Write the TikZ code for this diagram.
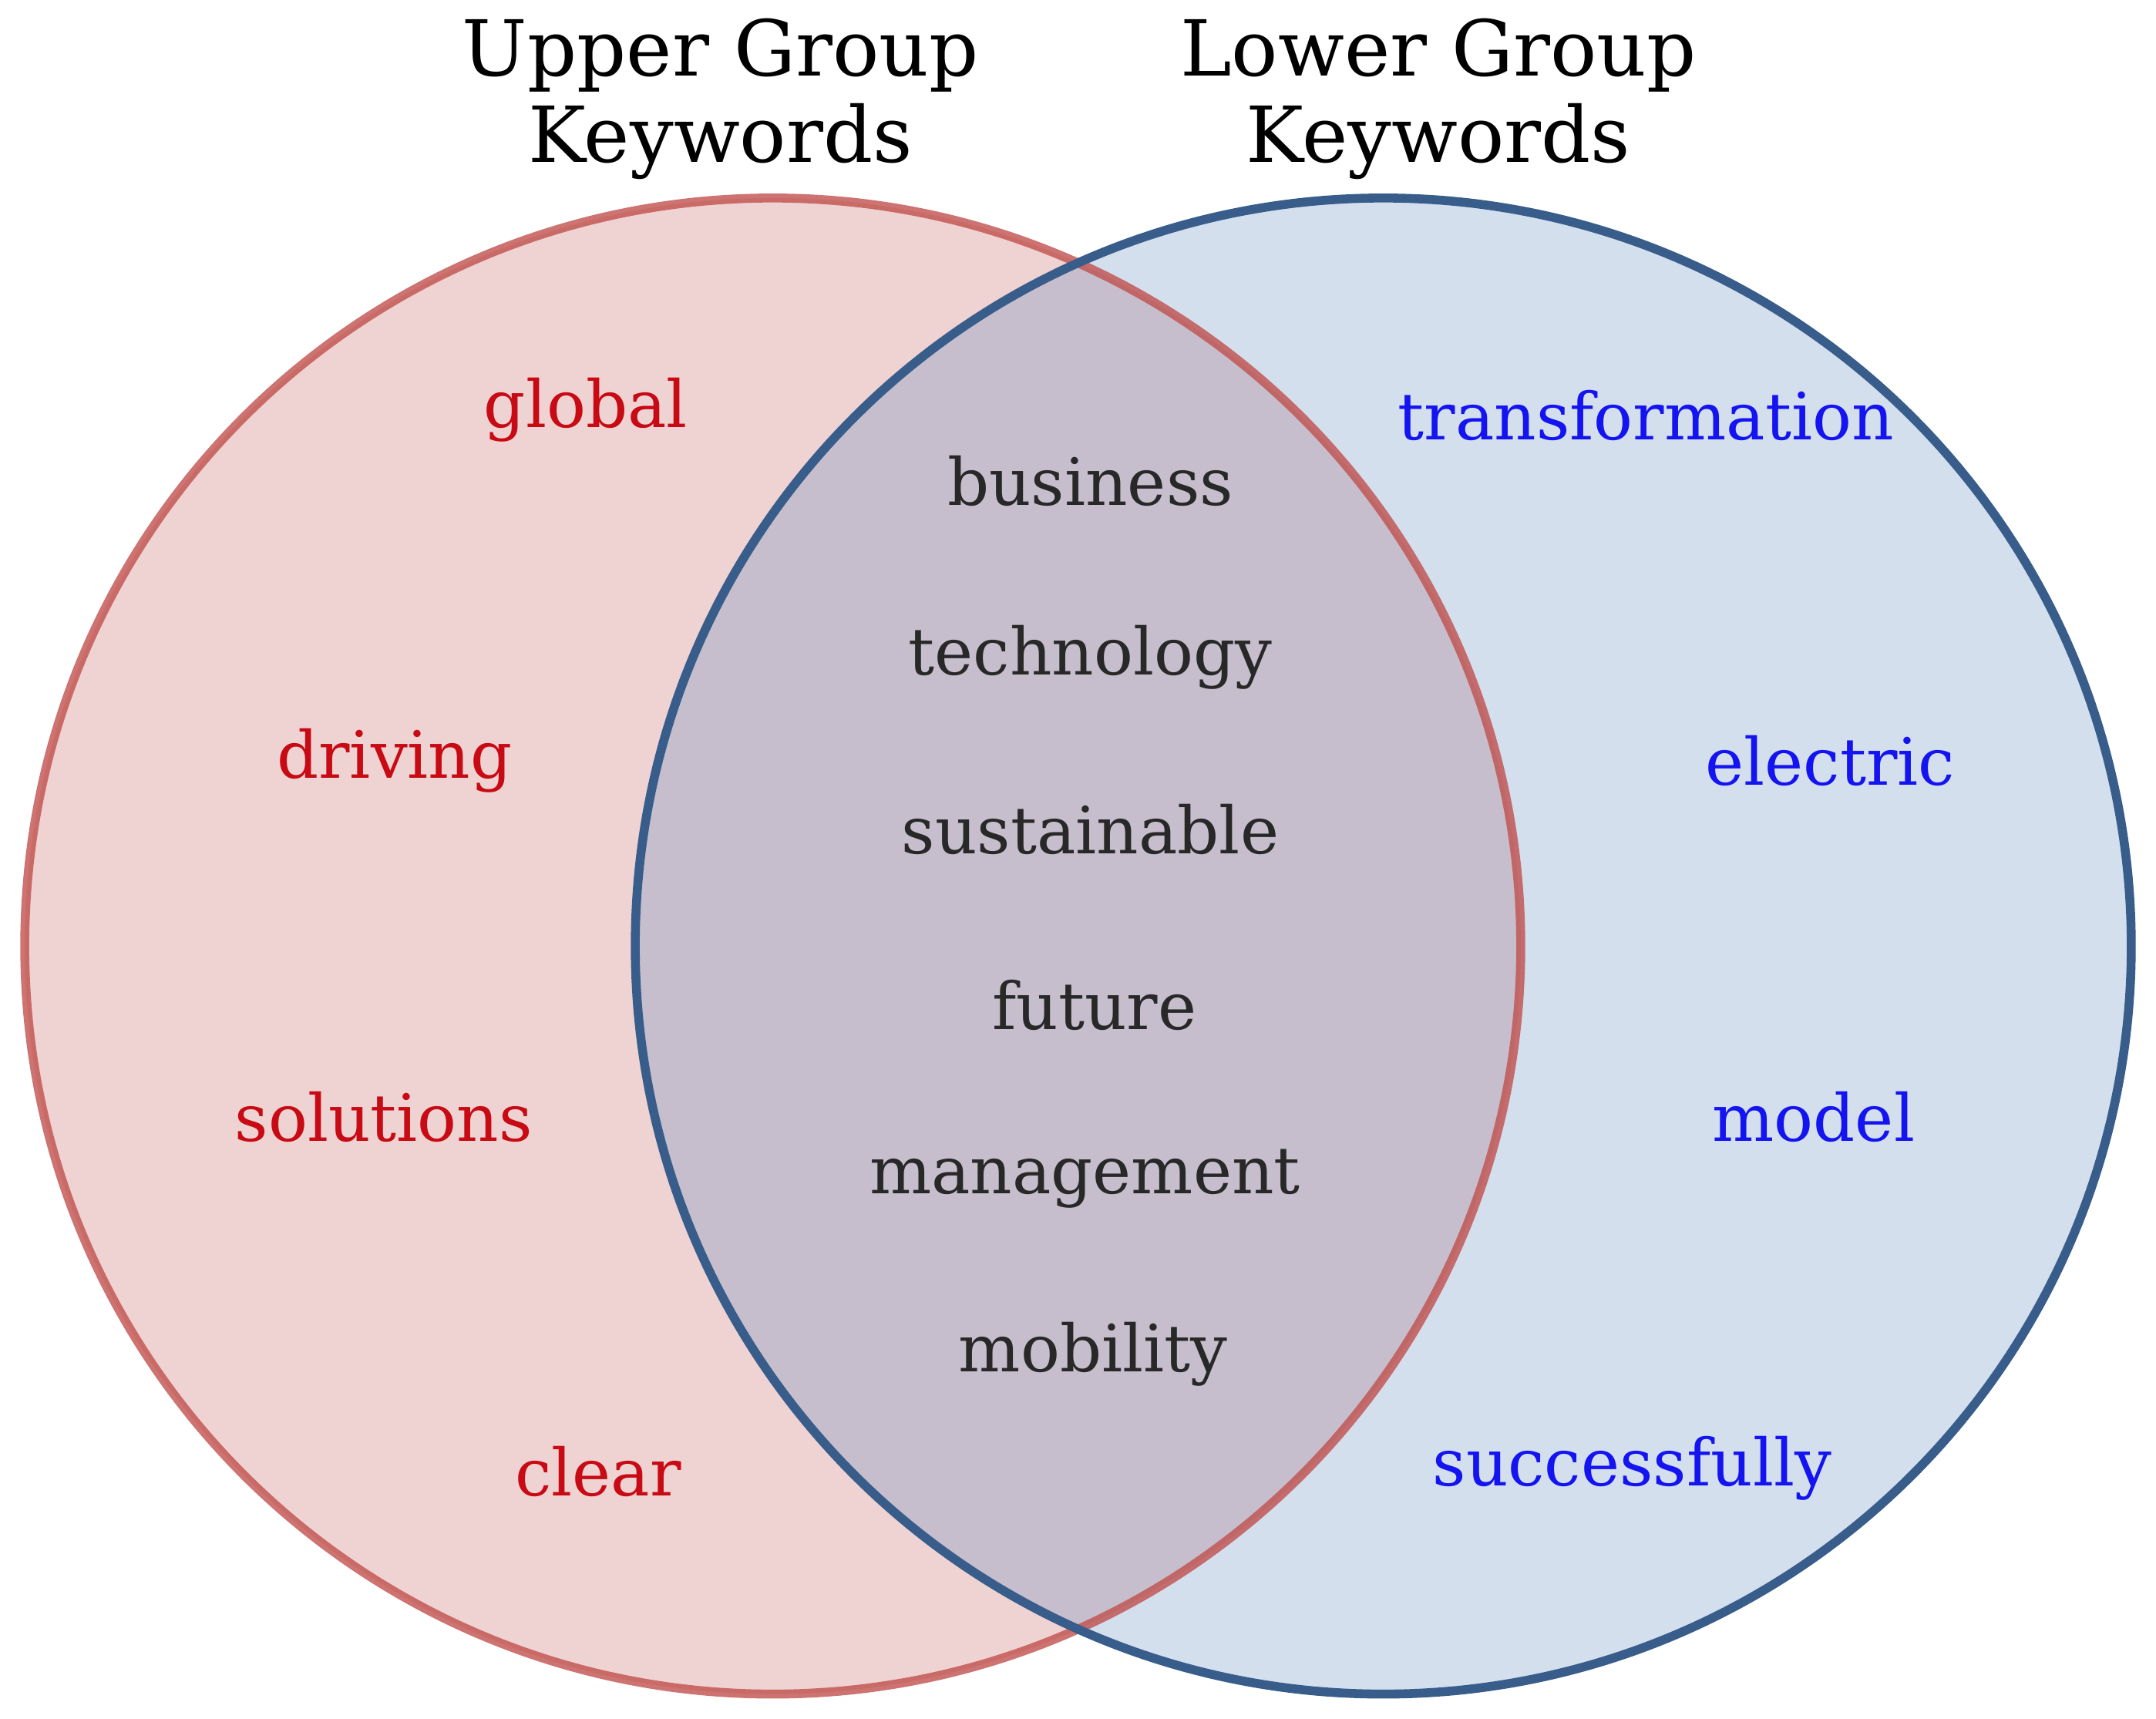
\documentclass[tikz,border=0pt]{standalone}
\usepackage{fontspec}
\setmainfont{DejaVu Serif}
\begin{document}
\begin{tikzpicture}[x=0.2mm,y=-0.2mm,
  kw/.style={font=\fontsize{27}{30}\selectfont},
  up/.style={kw,text={rgb,255:red,200;green,10;blue,20}},
  lo/.style={kw,text={rgb,255:red,20;green,20;blue,240}},
  mid/.style={kw,text={rgb,255:red,40;green,40;blue,40}},
  ttl/.style={font=\fontsize{32}{36}\selectfont,align=center}]
\definecolor{lfill}{RGB}{239,211,211}
\definecolor{rfill}{RGB}{212,223,238}
\definecolor{mfill}{RGB}{198,190,204}
\definecolor{lline}{RGB}{192,80,77}
\definecolor{rline}{RGB}{56,93,138}
\useasboundingbox (0,0) rectangle (1568,1250);
\coordinate (L) at (562,688);
\coordinate (R) at (1006,688);
\fill[lfill] (L) circle (544);
\fill[rfill] (R) circle (544);
\begin{scope}
\clip (L) circle (544);
\fill[mfill] (R) circle (544);
\end{scope}
\draw[lline,line width=1.3mm,opacity=0.8] (L) circle (544);
\draw[rline,line width=1.3mm] (R) circle (544);
\node[ttl] (t1) at (524,72) {Upper Group\\Keywords};
\node[ttl] (t2) at (1046,72) {Lower Group\\Keywords};
\node[up] (a1) at (426,298) {global};
\node[up] (a2) at (287,553) {driving};
\node[up] (a3) at (279,812) {solutions};
\node[up] (a4) at (435,1070) {clear};
\node[mid] (m1) at (793,350) {business};
\node[mid] (m2) at (793,478) {technology};
\node[mid] (m3) at (793,603) {sustainable};
\node[mid] (m4) at (796,731) {future};
\node[mid] (m5) at (789,857) {management};
\node[mid] (m6) at (795,985) {mobility};
\node[lo] (b1) at (1197,302) {transformation};
\node[lo] (b2) at (1331,553) {electric};
\node[lo] (b3) at (1319,812) {model};
\node[lo] (b4) at (1187,1068) {successfully};
\end{tikzpicture}
\end{document}
